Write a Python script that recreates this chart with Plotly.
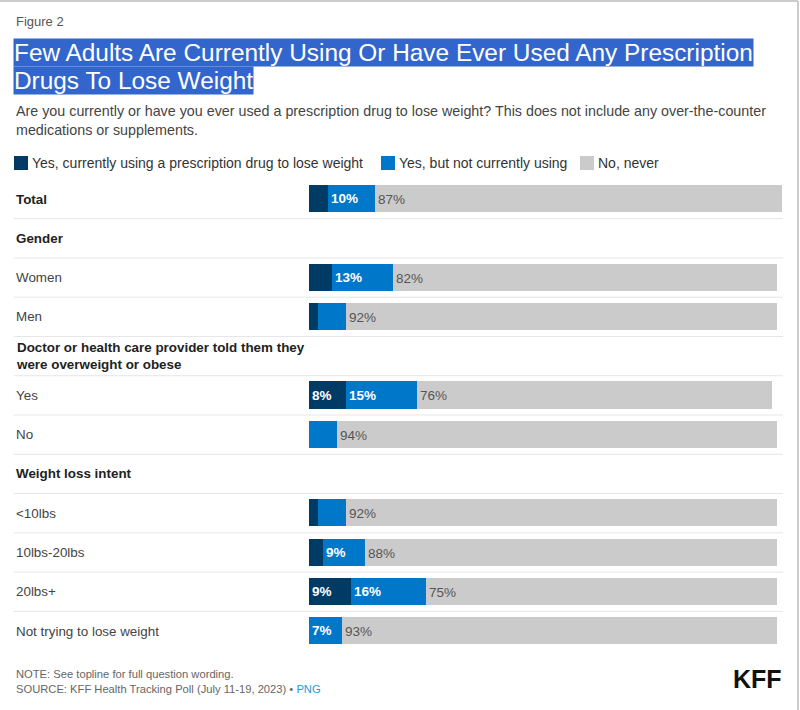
import plotly.graph_objects as go

# ---- data ----
row_labels = [
    "Total", "Gender", "Women", "Men",
    "Doctor or health care provider told them they<br>were overweight or obese",
    "Yes", "No", "Weight loss intent",
    "<10lbs", "10lbs-20lbs", "20lbs+", "Not trying to lose weight",
]
bold_rows = ["Total", "Gender",
             "Doctor or health care provider told them they<br>were overweight or obese",
             "Weight loss intent"]
current_use = [4, None, 5, 2, None, 8, 0, None, 2, 3, 9, 0]
former_use = [10, None, 13, 6, None, 15, 6, None, 6, 9, 16, 7]
never_use = [87, None, 82, 92, None, 76, 94, None, 92, 88, 75, 93]
series_names = ["Yes, currently using a prescription drug to lose weight",
                "Yes, but not currently using", "No, never"]
colors = ["#003b66", "#0077c8", "#cbcbcb"]

W, H = 800, 710
FONT = "Liberation Sans, Arial, sans-serif"
ypos = list(range(len(row_labels)))

def px_x(p):
    return p / W

def px_y(p):
    return 1 - p / H

def labels(vals, minv):
    return [f"{v}%" if (v is not None and v >= minv) else "" for v in vals]

fig = go.Figure()
series = [current_use, former_use, never_use]
for i, (name, vals, col) in enumerate(zip(series_names, series, colors)):
    is_gray = i == 2
    fig.add_trace(go.Bar(
        orientation="h", y=ypos, x=vals, name=name,
        marker=dict(color=col, line=dict(width=0)),
        width=0.69,
        text=labels(vals, 1 if is_gray else 7),
        textposition="inside", insidetextanchor="start",
        textfont=dict(family=FONT, size=14 if is_gray else 13.5,
                      color="#555555" if is_gray else "#ffffff",
                      weight="normal" if is_gray else "bold"),
        hoverinfo="skip", cliponaxis=False, showlegend=False,
    ))

# plot area geometry: row 0 center at 199px, row 11 center at 631px
step = (631 - 199) / (len(row_labels) - 1)
top_px = 199 - step / 2
bot_px = 631 + step / 2

fig.update_layout(
    width=W, height=H,
    margin=dict(l=0, r=0, t=0, b=0, autoexpand=False),
    paper_bgcolor="white", plot_bgcolor="white",
    barmode="stack", bargap=0,
    font=dict(family=FONT, color="#333333"),
    uniformtext=dict(minsize=12, mode="show"),
    xaxis=dict(domain=[px_x(309), px_x(783)], range=[0, 101.3],
               visible=False, fixedrange=True),
    yaxis=dict(domain=[px_y(bot_px), px_y(top_px)],
               range=[len(row_labels) - 0.5, -0.5],
               visible=False, fixedrange=True),
    showlegend=False,
)

shapes = []
ann = []

# legend (swatches + labels) placed like the reference
legend_x = [14, 381, 580]
legend_y = 163
for lx, name, col in zip(legend_x, series_names, colors):
    shapes.append(dict(type="rect", xref="paper", yref="paper",
                       x0=px_x(lx), x1=px_x(lx + 14),
                       y0=px_y(legend_y + 7), y1=px_y(legend_y - 7),
                       fillcolor=col, line=dict(width=0)))
    ann.append(dict(xref="paper", yref="paper", x=px_x(lx + 16), y=px_y(legend_y),
                    xanchor="left", yanchor="middle", showarrow=False, text=name,
                    font=dict(family=FONT, size=14, color="#333333")))

# row separators
for i in range(len(row_labels) - 1):
    shapes.append(dict(type="line", xref="paper", yref="y",
                       x0=px_x(14), x1=px_x(783), y0=i + 0.5, y1=i + 0.5,
                       line=dict(color="#e6e6e6", width=1)))
# frame lines (top and right)
shapes.append(dict(type="line", xref="paper", yref="paper", x0=0, x1=px_x(798),
                   y0=px_y(1), y1=px_y(1), line=dict(color="#cccccc", width=2)))
shapes.append(dict(type="line", xref="paper", yref="paper", x0=px_x(798), x1=px_x(798),
                   y0=0, y1=px_y(1), line=dict(color="#cccccc", width=2)))
fig.update_layout(shapes=shapes)

# row labels
for yi, lab in zip(ypos, row_labels):
    b = lab in bold_rows
    ann.append(dict(xref="paper", yref="y", x=px_x(14), y=yi, xanchor="left",
                    yanchor="middle", align="left", showarrow=False,
                    text=lab.replace("<10", "&lt;10"),
                    font=dict(family=FONT, size=13.4,
                              color="#222222" if b else "#444444",
                              weight="bold" if b else "normal")))

# header texts
ann.append(dict(xref="paper", yref="paper", x=px_x(14), y=px_y(22), xanchor="left",
                yanchor="middle", showarrow=False, text="Figure 2",
                font=dict(family=FONT, size=13, color="#555555")))
ann.append(dict(xref="paper", yref="paper", x=px_x(13), y=px_y(52), xanchor="left",
                yanchor="middle", showarrow=False,
                text="Few Adults Are Currently Using Or Have Ever Used Any Prescription",
                bgcolor="#3366cc", borderpad=0,
                font=dict(family=FONT, size=24.4, color="#ffffff")))
ann.append(dict(xref="paper", yref="paper", x=px_x(13), y=px_y(80.5), xanchor="left",
                yanchor="middle", showarrow=False,
                text="Drugs To Lose Weight",
                bgcolor="#3366cc", borderpad=0,
                font=dict(family=FONT, size=24.4, color="#ffffff")))
ann.append(dict(xref="paper", yref="paper", x=px_x(14), y=px_y(120), xanchor="left",
                yanchor="middle", align="left", showarrow=False,
                text="Are you currently or have you ever used a prescription drug to lose weight? This does not include any over-the-counter<br>medications or supplements.",
                font=dict(family=FONT, size=14.3, color="#444444")))
# footer
ann.append(dict(xref="paper", yref="paper", x=px_x(14), y=px_y(681), xanchor="left",
                yanchor="middle", align="left", showarrow=False,
                text="NOTE: See topline for full question wording.<br>SOURCE: KFF Health Tracking Poll (July 11-19, 2023) \u2022 <span style='color:#1a9cd8'>PNG</span>",
                font=dict(family=FONT, size=11.2, color="#666666")))
ann.append(dict(xref="paper", yref="paper", x=px_x(784), y=px_y(679), xanchor="right",
                yanchor="middle", showarrow=False, text="KFF",
                font=dict(family=FONT, size=25, color="#111111", weight="bold")))
fig.update_layout(annotations=ann)

fig.write_html("out.html", config={"displayModeBar": False},
               post_script="document.body.style.margin='0';document.body.style.padding='0';document.body.style.overflow='hidden';")
